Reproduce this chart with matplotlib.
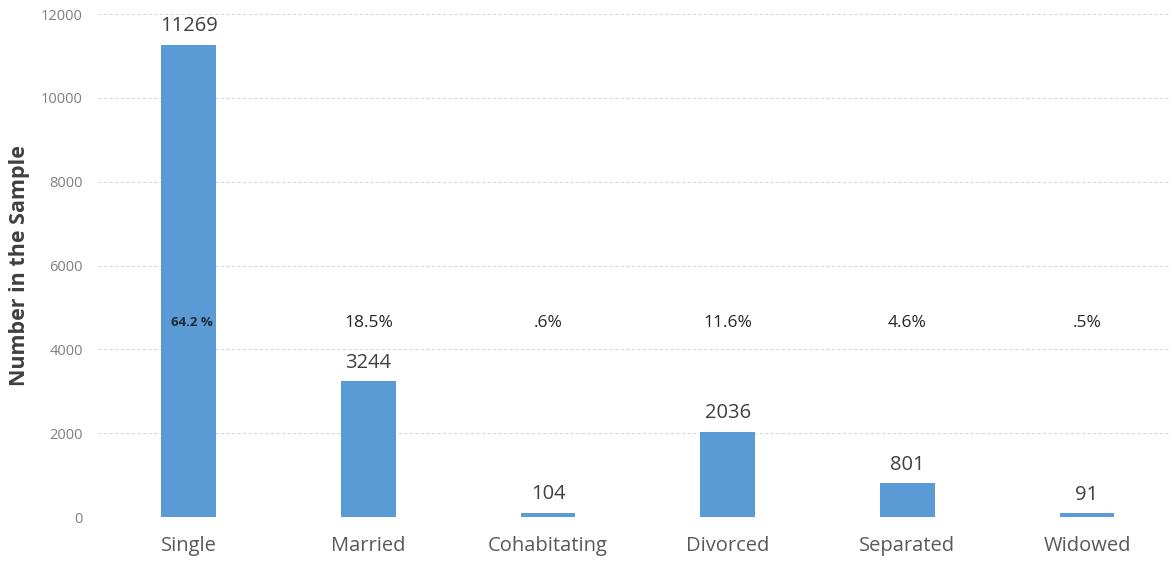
import matplotlib.pyplot as plt

plt.rcParams['font.family'] = ['Open Sans', 'DejaVu Sans']

categories = ['Single', 'Married', 'Cohabitating', 'Divorced', 'Separated', 'Widowed']
counts = [11269, 3244, 104, 2036, 801, 91]
percents = ['64.2 %', '18.5%', '.6%', '11.6%', '4.6%', '.5%']
yticks = [0, 2000, 4000, 6000, 8000, 10000, 12000]

fig = plt.figure(figsize=(11.72, 5.62), dpi=100)
ax = fig.add_axes([0.0836, 0.080, 0.9144, 0.895])

x = list(range(len(categories)))
ax.bar(x, counts, width=0.305, color='#5b9bd5', zorder=2)

for i in x:
    ax.annotate(str(counts[i]), (x[i], counts[i]), xytext=(0, 6), textcoords='offset points',
                ha='center', va='bottom', fontsize=14.5, color='#404040')

# percent labels, first one sits inside the tall bar
for i in x:
    if i == 0:
        ax.text(x[i] + 0.02, 4630, percents[i], ha='center', va='center', fontsize=9.5,
                color='#1f2a36', fontweight='bold')
    else:
        ax.text(x[i], 4630, percents[i], ha='center', va='center', fontsize=12.5, color='#262626')

ax.set_xlim(-0.505, 5.46)
ax.set_ylim(0, 12000)
ax.set_yticks(yticks)
ax.set_xticks(x)
ax.set_xticklabels(categories, fontsize=14.5, color='#595959')
ax.tick_params(axis='y', labelsize=10.5, colors='#7f7f7f', length=0, pad=11)
ax.tick_params(axis='x', length=0, pad=14)
ax.grid(axis='y', color='#d9d9d9', linestyle=(0, (3, 2)), linewidth=0.8, zorder=0)
ax.set_ylabel('Number in the Sample', fontsize=15.5, fontweight='bold', color='#404040', labelpad=8)

for s in ax.spines.values():
    s.set_visible(False)

fig.savefig('out.png', dpi=100)
